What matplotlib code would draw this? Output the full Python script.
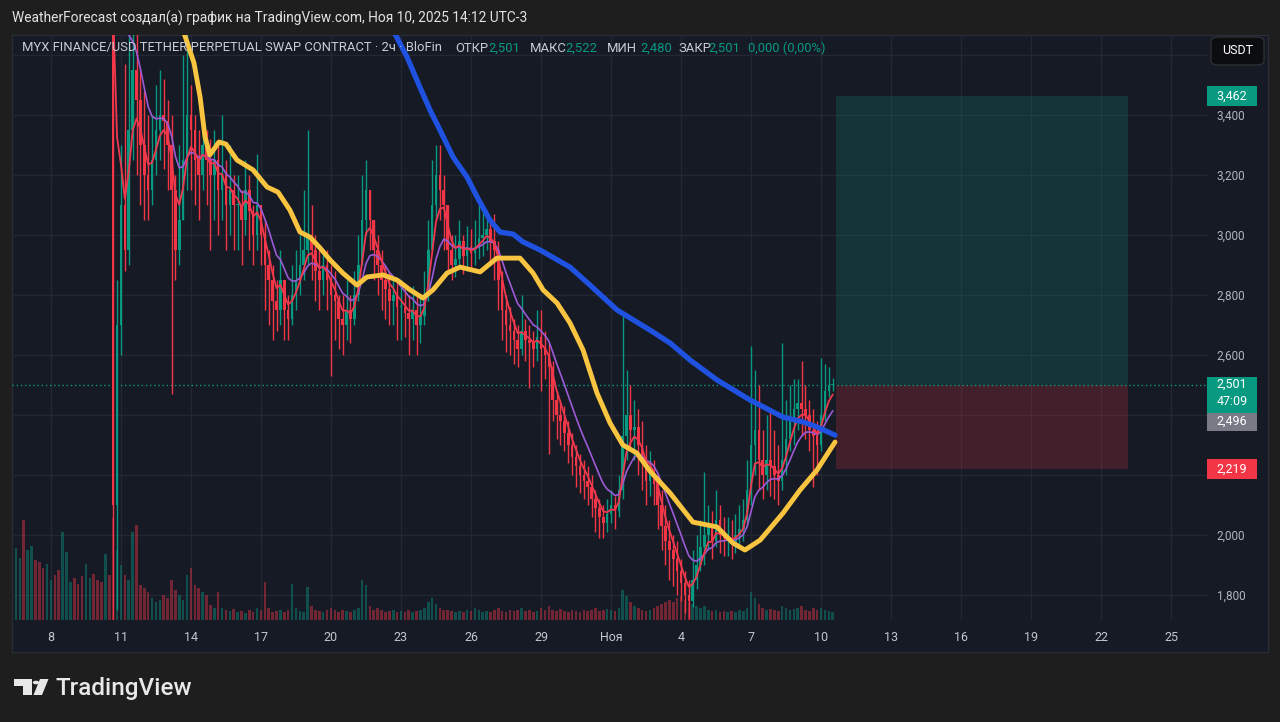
import numpy as np
import pandas as pd
import matplotlib
matplotlib.use("Agg")
import matplotlib.pyplot as plt
from matplotlib import transforms
from matplotlib.patches import Rectangle, FancyBboxPatch, Circle, Polygon

plt.rcParams['font.family'] = ['Roboto', 'DejaVu Sans']

# 4h candles, time in days since Oct 1 2025 00:00 (UTC-3)
t_first = 5.5
t_step = 1 / 6
first_open = 5.00

closes = [
    # Oct 6-10, above the visible range
    5.05, 5.12, 4.98, 5.20, 5.31, 5.18, 5.02, 4.90, 5.06, 5.15, 4.97, 4.88,
    4.95, 5.10, 5.22, 5.08, 4.93, 4.85, 4.99, 5.14, 5.03, 4.92, 4.80, 4.86, 4.75,
    2.10, 2.70,                                # Oct 10 crash
    3.10, 2.95, 3.35, 3.55, 3.45, 3.30,        # Oct 11
    3.20, 3.15, 3.25, 3.35, 3.40, 3.38,        # Oct 12
    3.30, 3.15, 2.95, 3.05, 3.25, 3.40,        # Oct 13
    3.35, 3.25, 3.20, 3.30, 3.25, 3.20,        # Oct 14
    3.25, 3.15, 3.20, 3.10, 3.15, 3.10,        # Oct 15
    3.10, 3.05, 3.15, 3.08, 3.00, 3.10,        # Oct 16
    3.00, 2.90, 2.85, 2.78, 2.75, 2.85,        # Oct 17
    2.75, 2.72, 2.80, 2.85, 2.90, 2.95,        # Oct 18
    3.00, 2.95, 2.88, 2.85, 2.90, 2.85,        # Oct 19
    2.80, 2.78, 2.72, 2.70, 2.75, 2.72,        # Oct 20
    2.80, 2.90, 3.05, 3.15, 3.05, 2.95,        # Oct 21
    2.90, 2.85, 2.82, 2.78, 2.80, 2.76,        # Oct 22
    2.76, 2.74, 2.72, 2.75, 2.70, 2.73,        # Oct 23
    2.80, 2.95, 3.10, 3.20, 3.15, 3.10,        # Oct 24
    2.95, 2.90, 2.92, 2.98, 2.93, 2.96,        # Oct 25
    2.94, 2.96, 2.99, 3.00, 3.02, 2.98,        # Oct 26
    2.95, 2.85, 2.75, 2.70, 2.68, 2.65,        # Oct 27
    2.62, 2.68, 2.65, 2.64, 2.62, 2.66,        # Oct 28
    2.62, 2.60, 2.56, 2.45, 2.40, 2.38,        # Oct 29
    2.34, 2.30, 2.26, 2.23, 2.20, 2.18,        # Oct 30
    2.16, 2.12, 2.09, 2.06, 2.04, 2.07,        # Oct 31
    2.10, 2.08, 2.15, 2.33, 2.40, 2.35,        # Nov 1
    2.36, 2.30, 2.25, 2.18, 2.22, 2.17,        # Nov 2
    2.10, 2.03, 1.98, 1.95, 1.92, 1.88,        # Nov 3
    1.84, 1.80, 1.78, 1.85, 1.90, 1.96,        # Nov 4
    2.00, 2.03, 1.98, 2.05, 2.00, 1.99,        # Nov 5
    1.99, 1.97, 2.00, 2.02, 2.05, 2.15,        # Nov 6
    2.30, 2.35, 2.25, 2.20, 2.25, 2.23,        # Nov 7
    2.20, 2.18, 2.25, 2.32, 2.38, 2.42,        # Nov 8
    2.44, 2.42, 2.40, 2.35, 2.33, 2.30,        # Nov 9
    2.40, 2.48, 2.501, 2.501,                  # Nov 10
]
highs = [
    5.15, 5.25, 5.18, 5.30, 5.42, 5.35, 5.22, 5.08, 5.15, 5.26, 5.20, 5.02,
    5.05, 5.20, 5.33, 5.28, 5.12, 4.98, 5.08, 5.25, 5.20, 5.10, 4.98, 4.96, 4.92,
    4.80, 2.85,
    3.30, 3.57, 3.70, 3.80, 3.72, 3.55,
    3.48, 3.40, 3.40, 3.50, 3.55, 3.52,
    3.45, 3.40, 3.20, 3.30, 3.60, 3.75,
    3.50, 3.40, 3.35, 3.40, 3.35, 3.32,
    3.35, 3.30, 3.40, 3.25, 3.30, 3.20,
    3.20, 3.15, 3.25, 3.20, 3.10, 3.27,
    3.10, 3.05, 2.95, 2.90, 2.85, 2.95,
    2.85, 2.80, 2.90, 2.95, 3.00, 3.15,
    3.35, 3.10, 3.00, 2.95, 2.95, 2.95,
    2.90, 2.88, 2.80, 2.80, 2.85, 2.80,
    2.88, 3.00, 3.20, 3.25, 3.15, 3.05,
    3.00, 2.95, 2.90, 2.88, 2.85, 2.85,
    2.85, 2.82, 2.80, 2.83, 2.80, 2.80,
    2.88, 3.05, 3.25, 3.30, 3.30, 3.20,
    3.10, 3.00, 3.00, 3.05, 3.00, 3.03,
    3.02, 3.05, 3.10, 3.08, 3.06, 3.04,
    3.07, 2.98, 2.88, 2.80, 2.76, 2.72,
    2.70, 2.80, 2.72, 2.70, 2.68, 2.75,
    2.75, 2.68, 2.64, 2.58, 2.48, 2.45,
    2.43, 2.38, 2.34, 2.30, 2.27, 2.25,
    2.23, 2.20, 2.15, 2.12, 2.10, 2.12,
    2.15, 2.13, 2.20, 2.74, 2.55, 2.50,
    2.45, 2.42, 2.38, 2.30, 2.28, 2.25,
    2.20, 2.15, 2.10, 2.05, 2.00, 1.98,
    1.92, 1.88, 1.85, 1.95, 2.00, 2.05,
    2.21, 2.10, 2.08, 2.15, 2.10, 2.06,
    2.06, 2.05, 2.07, 2.10, 2.12, 2.25,
    2.63, 2.55, 2.50, 2.35, 2.40, 2.42,
    2.35, 2.30, 2.64, 2.45, 2.50, 2.52,
    2.52, 2.58, 2.50, 2.45, 2.42, 2.38,
    2.59, 2.57, 2.56, 2.522,
]
lows = [
    4.88, 4.95, 4.90, 4.92, 5.10, 5.08, 4.95, 4.82, 4.85, 4.98, 4.90, 4.80,
    4.80, 4.90, 5.02, 5.00, 4.85, 4.75, 4.80, 4.92, 4.95, 4.85, 4.72, 4.74, 4.65,
    1.60, 1.75,
    2.60, 2.88, 2.90, 3.25, 3.20, 3.10,
    3.05, 3.05, 3.10, 3.20, 3.25, 3.22,
    3.15, 2.47, 2.85, 2.90, 3.05, 3.15,
    3.15, 3.10, 3.05, 3.15, 3.10, 2.95,
    3.05, 3.00, 3.05, 2.95, 3.00, 2.95,
    2.95, 2.90, 3.00, 2.95, 2.90, 2.95,
    2.90, 2.75, 2.70, 2.65, 2.68, 2.70,
    2.65, 2.65, 2.70, 2.75, 2.80, 2.85,
    2.90, 2.85, 2.78, 2.75, 2.80, 2.75,
    2.53, 2.65, 2.62, 2.60, 2.65, 2.64,
    2.70, 2.78, 2.90, 3.00, 2.95, 2.85,
    2.80, 2.75, 2.72, 2.70, 2.70, 2.65,
    2.65, 2.66, 2.60, 2.65, 2.60, 2.64,
    2.70, 2.78, 2.95, 3.05, 3.05, 2.95,
    2.87, 2.85, 2.86, 2.90, 2.87, 2.88,
    2.88, 2.90, 2.92, 2.93, 2.95, 2.90,
    2.85, 2.75, 2.65, 2.61, 2.60, 2.57,
    2.56, 2.60, 2.58, 2.49, 2.56, 2.58,
    2.48, 2.52, 2.27, 2.38, 2.32, 2.30,
    2.28, 2.24, 2.20, 2.16, 2.14, 2.12,
    2.10, 2.06, 2.01, 1.99, 1.99, 2.01,
    2.04, 2.02, 2.06, 2.12, 2.25, 2.28,
    2.25, 2.20, 2.15, 2.10, 2.13, 2.10,
    2.02, 1.95, 1.90, 1.85, 1.83, 1.80,
    1.78, 1.74, 1.72, 1.76, 1.82, 1.88,
    1.90, 1.95, 1.92, 1.96, 1.94, 1.93,
    1.93, 1.92, 1.94, 1.96, 1.98, 2.03,
    2.10, 2.20, 2.15, 2.12, 2.15, 2.13,
    2.12, 2.10, 2.15, 2.20, 2.28, 2.30,
    2.35, 2.33, 2.32, 2.28, 2.16, 2.20,
    2.28, 2.38, 2.46, 2.480,
]
volume = [
    72, 62, 100, 70, 74, 60, 58, 52, 56, 40, 45, 50, 88, 68, 38, 42, 36, 44,
    56, 42, 46, 40, 38, 66, 45,
    102, 70,
    55, 45, 40, 88, 95, 35,
    32, 28, 22, 18, 20, 25,
    22, 40, 30, 25, 20, 45,
    52, 35, 32, 28, 25, 15,
    12, 28, 12, 10, 9, 11,
    8, 9, 7, 10, 8, 12,
    10, 38, 12, 8, 9, 10,
    8, 10, 36, 12, 9, 8,
    33, 14, 10, 9, 8, 10,
    12, 10, 8, 10, 9, 8,
    10, 12, 40, 35, 14, 10,
    12, 10, 8, 9, 10, 8,
    9, 8, 10, 8, 9, 10,
    12, 18, 22, 16, 12, 10,
    10, 9, 8, 9, 8, 10,
    9, 12, 10, 8, 9, 8,
    10, 12, 9, 8, 10, 9,
    10, 12, 9, 10, 8, 9,
    12, 10, 14, 10, 9, 11,
    9, 8, 10, 9, 8, 10,
    9, 10, 12, 9, 10, 11,
    10, 9, 12, 30, 24, 18,
    14, 12, 10, 9, 10, 12,
    14, 16, 18, 20, 18, 22,
    24, 20, 18, 16, 14, 12,
    14, 10, 9, 10, 8, 9,
    8, 9, 8, 10, 9, 12,
    28, 22, 16, 12, 10, 11,
    10, 9, 14, 12, 10, 11,
    12, 14, 10, 9, 12, 10,
    12, 10, 9, 8,
]
vol_top = 585

# slow moving averages
blue_t = [21.31, 21.66, 22.26, 22.81, 23.24, 23.67, 24.23, 24.83, 25.26, 25.81,
          26.24, 26.80, 27.23, 27.96, 29.24, 30.10, 31.26, 32.67, 33.53, 34.39,
          35.54, 36.96, 38.37, 39.23, 39.83, 40.60]
blue_v = [3.767, 3.683, 3.593, 3.493, 3.417, 3.350, 3.260, 3.193, 3.127, 3.050,
          3.010, 3.003, 2.977, 2.950, 2.893, 2.833, 2.750, 2.683, 2.640, 2.583,
          2.517, 2.450, 2.393, 2.377, 2.360, 2.333]
yellow_t = [12.40, 12.66, 13.13, 13.39, 13.60, 13.81, 14.20, 14.50, 14.97, 15.66,
            16.26, 16.73, 17.24, 17.67, 18.10, 18.53, 18.96, 19.51, 20.11, 20.54,
            21.23, 21.83, 22.39, 22.94, 23.37, 23.97, 24.53, 25.39, 26.11, 27.10,
            27.66, 28.09, 28.69, 29.24, 29.80, 30.40, 30.96, 31.51, 32.11, 32.67,
            33.53, 34.51, 35.54, 36.23, 36.74, 37.39, 38.37, 39.10, 39.83, 40.60]
yellow_v = [3.750, 3.683, 3.573, 3.460, 3.327, 3.267, 3.310, 3.303, 3.250, 3.217,
            3.160, 3.143, 3.083, 3.010, 2.993, 2.957, 2.917, 2.873, 2.833, 2.860,
            2.867, 2.850, 2.817, 2.790, 2.817, 2.873, 2.893, 2.877, 2.923, 2.923,
            2.873, 2.817, 2.773, 2.707, 2.617, 2.473, 2.373, 2.300, 2.273, 2.213,
            2.140, 2.043, 2.027, 1.973, 1.950, 1.983, 2.073, 2.150, 2.217, 2.310]

tick_days = [7, 10, 13, 16, 19, 22, 25, 28, 31, 34, 37, 40, 43, 46, 49, 52, 55]
tick_labels = ["8", "11", "14", "17", "20", "23", "26", "29", "Ноя",
               "4", "7", "10", "13", "16", "19", "22", "25"]
price_ticks = [1.8, 2.0, 2.2, 2.4, 2.6, 2.8, 3.0, 3.2, 3.4, 3.6]
hidden_ticks = [2.2, 2.4, 3.6]   # covered by the price badges / USDT button

entry, target, stop = 2.501, 3.462, 2.219
box_t0, box_t1 = 40.64, 53.16

GREEN = '#089981'
RED = '#f23645'
BG = '#161a25'

closes = np.array(closes)
highs = np.array(highs)
lows = np.array(lows)
t = t_first + t_step * np.arange(len(closes))
opens = np.r_[first_open, closes[:-1]]
up = closes >= opens
colors = np.where(up, GREEN, RED)

ema_fast = pd.Series(closes).ewm(span=4, adjust=False).mean()
ema_mid = pd.Series(closes).ewm(span=10, adjust=False).mean()

W, H = 1280, 722
fig = plt.figure(figsize=(12.8, 7.22), dpi=100, facecolor='#1e1e1e')


def fx(px):
    return px / W


def fy(py):
    return 1 - py / H


fig.add_artist(Rectangle((fx(12), fy(652)), fx(1268) - fx(12), fy(35) - fy(652),
                         transform=fig.transFigure, facecolor=BG,
                         edgecolor='#2a2d36', lw=1, zorder=-1))

ax = fig.add_axes([fx(12), fy(620), fx(1207) - fx(12), fy(35) - fy(620)])
ax.set_facecolor('none')
for s in ax.spines.values():
    s.set_visible(False)
ylo, yhi = 1.7167, 3.6667
ax.set_xlim(5.33, 56.54)
ax.set_ylim(ylo, yhi)

ax.set_xticks(tick_days)
ax.set_xticklabels(tick_labels)
ax.set_yticks(price_ticks)
ax.set_yticklabels(["" if v in hidden_ticks else f"{v:.3f}".replace('.', ',')
                    for v in price_ticks])
ax.yaxis.tick_right()
ax.tick_params(axis='x', length=0, pad=8, labelsize=9, labelcolor='#c4c6cc')
ax.tick_params(axis='y', length=0, pad=7, labelsize=8.5, labelcolor='#b2b5be')
ax.grid(color='#232733', lw=1)
ax.set_axisbelow(True)

# volume in the bottom of the pane
vol_trans = transforms.blended_transform_factory(
    ax.transData, transforms.Affine2D().scale(1, 1 / vol_top) + ax.transAxes)
ax.bar(t, volume, width=0.11, bottom=0, color=colors, alpha=0.42,
       linewidth=0, transform=vol_trans, zorder=1)

# position tool
ax.add_patch(Rectangle((box_t0, entry), box_t1 - box_t0, target - entry,
                       facecolor=GREEN, alpha=0.2, lw=0, zorder=1.5))
ax.add_patch(Rectangle((box_t0, stop), box_t1 - box_t0, entry - stop,
                       facecolor=RED, alpha=0.2, lw=0, zorder=1.5))
ax.axhline(entry, color=GREEN, lw=1, ls=(0, (1, 2)), zorder=2)

# candles
ax.vlines(t, lows, highs, colors=colors, lw=1, zorder=3)
body = np.maximum(np.abs(closes - opens), 0.004)
ax.bar(t, body, bottom=np.minimum(opens, closes), width=0.11, color=colors,
       linewidth=0, zorder=3)

ax.plot(t, ema_mid, color='#9c5ad6', lw=1.2, zorder=4)
ax.plot(t, ema_fast, color='#f0394e', lw=1.3, zorder=4)
ax.plot(yellow_t, yellow_v, color='#f9c440', lw=3.5, zorder=5,
        solid_joinstyle='round', solid_capstyle='round')
ax.plot(blue_t, blue_v, color='#1f52e0', lw=3.8, zorder=6,
        solid_joinstyle='round', solid_capstyle='round')

# price labels on the right scale
ppx = (yhi - ylo) / 585
lab_tr = transforms.blended_transform_factory(fig.transFigure, ax.transData)


def price_box(y_top, y_bot, fc):
    fig.add_artist(Rectangle((fx(1207), y_bot), fx(1257) - fx(1207), y_top - y_bot,
                             transform=lab_tr, facecolor=fc, lw=0, zorder=5))


def price_text(y, s):
    fig.text(fx(1232), y, s, transform=lab_tr, ha='center', va='center',
             color='white', fontsize=9, zorder=6)


price_box(target + 10 * ppx, target - 10 * ppx, GREEN)
price_text(target, "3,462")
price_box(entry + 8 * ppx, entry - 28 * ppx, GREEN)
price_text(entry, "2,501")
price_text(entry - 17 * ppx, "47:09")
price_box(entry - 28 * ppx, entry - 46 * ppx, '#787b86')
price_text(entry - 37 * ppx, "2,496")
price_box(stop + 10 * ppx, stop - 10 * ppx, RED)
price_text(stop, "2,219")

# currency button
fig.add_artist(FancyBboxPatch((fx(1211), fy(65)), fx(1264) - fx(1211), fy(37) - fy(65),
                              boxstyle="round,pad=0,rounding_size=0.006",
                              transform=fig.transFigure, facecolor='#0c0d10',
                              edgecolor='#2e2f33', lw=1, zorder=5))
fig.text(fx(1237.5), fy(51), "USDT", ha='center', va='center', color='white',
         fontsize=9, zorder=6)

# header and symbol line
fig.text(fx(12), fy(18), "WeatherForecast создал(а) график на TradingView.com, Ноя 10, 2025 14:12 UTC-3",
         ha='left', va='center', color='#e2e2e2', fontsize=9.9)
sym_parts = [
    (22, "MYX FINANCE/USD TETHER PERPETUAL SWAP CONTRACT · 2ч · BloFin", '#c9ccd4'),
    (455, "ОТКР", '#c9ccd4'), (488, "2,501", GREEN),
    (530, "МАКС", '#c9ccd4'), (565, "2,522", GREEN),
    (607, "МИН", '#c9ccd4'), (640, "2,480", GREEN),
    (678, "ЗАКР", '#c9ccd4'), (708, "2,501", GREEN),
    (748, "0,000 (0,00%)", GREEN),
]
for px, s, c in sym_parts:
    fig.text(fx(px), fy(48), s, ha='left', va='center', color=c, fontsize=9.4,
             zorder=7)

# TradingView logo
fig.add_artist(Polygon([(fx(14), fy(679)), (fx(32), fy(679)), (fx(32), fy(695)),
                        (fx(23), fy(695)), (fx(23), fy(686)), (fx(14), fy(686))],
                       closed=True, transform=fig.transFigure, facecolor='#e8e8e8', lw=0))
fig.add_artist(Circle((fx(36), fy(682.5)), 3.2 / W, transform=fig.transFigure,
                      facecolor='#e8e8e8', lw=0))
fig.add_artist(Polygon([(fx(40), fy(679)), (fx(48.5), fy(679)), (fx(42), fy(695)),
                        (fx(33.5), fy(695))],
                       closed=True, transform=fig.transFigure, facecolor='#e8e8e8', lw=0))
fig.text(fx(56), fy(688), "TradingView", ha='left', va='center', color='#e8e8e8',
         fontsize=17.5, fontweight='medium')

fig.savefig("out.png", dpi=100, facecolor=fig.get_facecolor())
